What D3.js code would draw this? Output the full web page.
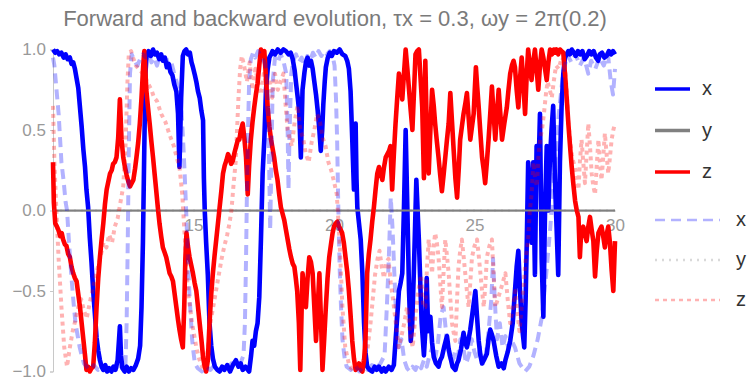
<!DOCTYPE html>
<html>
<head>
<meta charset="utf-8">
<script src="https://cdn.jsdelivr.net/npm/d3@7"></script>
<style>
  body { margin: 0; background: #fff; }
  svg { font-family: "Liberation Sans", Arial, sans-serif; }
</style>
</head>
<body>
<div id="chart"></div>
<script>
// forward evolution, [t, value]
const xFwd = [[10.0,1.0],[10.08,0.98],[10.15,0.99],[10.22,0.97],[10.3,0.98],[10.38,0.95],[10.45,0.97],[10.52,0.94],[10.6,0.95],[10.66,0.91],[10.72,0.92],[10.78,0.88],[10.84,0.82],[10.9,0.76],[10.96,0.64],[11.02,0.52],[11.08,0.38],[11.14,0.27],[11.19,0.13],[11.25,0.02],[11.31,-0.17],[11.37,-0.32],[11.43,-0.5],[11.49,-0.64],[11.55,-0.79],[11.61,-0.87],[11.67,-0.93],[11.73,-0.97],[11.79,-0.99],[11.86,-0.96],[11.93,-1.0],[12.0,-0.98],[12.08,-1.0],[12.15,-0.97],[12.22,-0.99],[12.3,-0.93],[12.35,-0.8],[12.38,-0.72],[12.42,-0.9],[12.47,-0.98],[12.55,-1.0],[12.62,-0.97],[12.7,-1.0],[12.78,-0.98],[12.86,-0.99],[12.95,-0.96],[13.03,-0.92],[13.1,-0.84],[13.15,-0.6],[13.2,-0.2],[13.25,0.4],[13.29,0.85],[13.33,0.97],[13.4,0.99],[13.48,0.96],[13.56,1.0],[13.63,0.97],[13.7,0.98],[13.78,0.94],[13.85,0.97],[13.91,0.93],[13.98,0.95],[14.05,0.89],[14.12,0.91],[14.18,0.86],[14.25,0.84],[14.32,0.78],[14.39,0.74],[14.45,0.6],[14.5,0.27],[14.56,0.7],[14.62,0.96],[14.68,0.99],[14.74,1.0],[14.8,0.97],[14.87,0.98],[14.93,0.92],[14.98,0.89],[15.05,0.84],[15.1,0.8],[15.16,0.74],[15.22,0.7],[15.28,0.62],[15.34,0.56],[15.37,0.2],[15.4,0.0],[15.45,-0.2],[15.51,-0.4],[15.57,-0.7],[15.63,-0.84],[15.69,-0.92],[15.76,-0.97],[15.85,-0.99],[15.93,-1.0],[16.02,-0.97],[16.1,-0.99],[16.2,-0.96],[16.3,-1.0],[16.4,-0.96],[16.51,-0.93],[16.6,-0.97],[16.68,-0.95],[16.75,-0.99],[16.85,-0.97],[16.98,-1.0],[17.05,-0.9],[17.1,-0.81],[17.16,-0.84],[17.22,-0.75],[17.28,-0.7],[17.34,-0.54],[17.4,-0.18],[17.46,0.23],[17.52,0.44],[17.58,0.75],[17.64,0.88],[17.7,0.95],[17.76,0.97],[17.81,0.99],[17.9,0.97],[18.0,1.0],[18.1,0.98],[18.2,1.0],[18.29,0.99],[18.38,0.97],[18.46,0.98],[18.53,0.94],[18.6,0.87],[18.65,0.79],[18.71,0.7],[18.76,0.62],[18.82,0.33],[18.88,0.75],[18.95,0.86],[19.0,0.92],[19.06,0.95],[19.12,0.9],[19.18,0.93],[19.24,0.88],[19.3,0.8],[19.36,0.72],[19.42,0.62],[19.48,0.5],[19.53,0.37],[19.58,0.5],[19.62,0.66],[19.67,0.8],[19.71,0.89],[19.78,0.95],[19.85,0.98],[19.92,0.96],[20.0,0.99],[20.1,0.98],[20.2,1.0],[20.3,0.97],[20.4,0.96],[20.47,0.93],[20.53,0.88],[20.59,0.74],[20.65,0.44],[20.71,0.13],[20.75,0.3],[20.77,0.54],[20.8,0.2],[20.83,0.02],[20.89,-0.08],[20.95,-0.18],[21.01,-0.39],[21.07,-0.7],[21.12,-0.88],[21.18,-0.97],[21.27,-0.99],[21.36,-1.0],[21.45,-0.97],[21.52,-0.99],[21.6,-0.97],[21.7,-1.0],[21.78,-0.98],[21.84,-1.0],[21.95,-0.97],[22.05,-0.99],[22.13,-0.96],[22.19,-0.81],[22.25,-0.66],[22.31,-0.5],[22.37,-0.45],[22.43,-0.39],[22.49,0.02],[22.55,0.5],[22.61,0.02],[22.67,-0.5],[22.73,-0.81],[22.78,-0.72],[22.84,-0.39],[22.93,0.19],[23.02,-0.18],[23.08,-0.5],[23.12,-0.7],[23.2,-0.9],[23.25,-0.75],[23.3,-0.42],[23.35,-0.75],[23.43,-0.66],[23.49,-0.82],[23.55,-0.91],[23.63,-0.95],[23.72,-0.97],[23.78,-0.93],[23.84,-0.91],[23.93,-0.84],[24.02,-0.78],[24.08,-0.86],[24.14,-0.91],[24.22,-0.97],[24.32,-0.99],[24.38,-0.95],[24.43,-0.93],[24.52,-0.86],[24.61,-0.76],[24.67,-0.82],[24.73,-0.85],[24.79,-0.8],[24.85,-0.74],[24.94,-0.62],[25.03,-0.5],[25.09,-0.66],[25.15,-0.81],[25.21,-0.9],[25.27,-0.95],[25.36,-0.92],[25.44,-0.89],[25.5,-0.8],[25.56,-0.74],[25.62,-0.77],[25.68,-0.81],[25.77,-0.9],[25.86,-0.97],[25.96,-0.95],[26.04,-0.98],[26.1,-0.93],[26.18,-0.88],[26.27,-0.81],[26.36,-0.7],[26.44,-0.5],[26.5,-0.35],[26.56,-0.25],[26.62,-0.5],[26.68,-0.7],[26.77,-0.85],[26.82,-0.55],[26.86,-0.2],[26.91,0.3],[26.97,0.1],[27.03,-0.2],[27.09,0.3],[27.15,-0.4],[27.21,0.4],[27.27,0.2],[27.33,0.6],[27.39,-0.3],[27.45,-0.66],[27.51,0.0],[27.57,0.4],[27.63,0.0],[27.68,0.3],[27.74,0.5],[27.8,0.65],[27.86,0.2],[27.92,-0.1],[27.98,-0.4],[28.04,0.3],[28.1,0.65],[28.16,0.85],[28.22,0.95],[28.28,0.97],[28.34,0.99],[28.4,0.97],[28.46,1.0],[28.54,0.98],[28.6,0.96],[28.68,0.99],[28.76,0.97],[28.84,0.99],[28.92,0.94],[29.0,0.96],[29.08,0.99],[29.16,0.97],[29.24,0.99],[29.32,0.95],[29.4,0.93],[29.46,0.97],[29.54,0.98],[29.62,0.95],[29.7,0.96],[29.78,0.99],[29.86,0.97],[29.93,0.99],[30.0,0.97]];

const yFwd = [[10, 0], [30, 0]];

const zFwd = [[10.0,0.3],[10.03,0.05],[10.08,-0.08],[10.14,-0.1],[10.19,-0.12],[10.26,-0.16],[10.31,-0.14],[10.36,-0.18],[10.42,-0.21],[10.48,-0.22],[10.54,-0.27],[10.6,-0.29],[10.66,-0.35],[10.72,-0.39],[10.78,-0.42],[10.84,-0.44],[10.9,-0.52],[10.96,-0.6],[11.02,-0.7],[11.08,-0.8],[11.14,-0.9],[11.19,-0.99],[11.25,-0.97],[11.31,-1.0],[11.37,-0.98],[11.43,-0.97],[11.49,-0.82],[11.55,-0.6],[11.61,-0.42],[11.67,-0.29],[11.73,-0.18],[11.79,-0.08],[11.85,0.04],[11.91,0.13],[11.97,0.18],[12.03,0.23],[12.09,0.25],[12.14,0.29],[12.2,0.3],[12.26,0.33],[12.32,0.45],[12.38,0.69],[12.44,0.44],[12.5,0.33],[12.56,0.27],[12.62,0.22],[12.68,0.18],[12.74,0.15],[12.8,0.17],[12.86,0.19],[12.92,0.26],[12.97,0.33],[13.03,0.42],[13.09,0.54],[13.15,0.7],[13.21,0.9],[13.25,0.99],[13.28,0.9],[13.32,0.75],[13.38,0.64],[13.44,0.54],[13.5,0.43],[13.56,0.33],[13.62,0.22],[13.67,0.13],[13.73,0.02],[13.79,-0.08],[13.85,-0.16],[13.91,-0.23],[13.97,-0.26],[14.03,-0.29],[14.09,-0.34],[14.15,-0.39],[14.21,-0.41],[14.27,-0.44],[14.33,-0.52],[14.39,-0.6],[14.45,-0.68],[14.5,-0.74],[14.56,-0.8],[14.62,-0.85],[14.67,-0.6],[14.71,-0.3],[14.75,-0.14],[14.8,-0.22],[14.86,-0.29],[14.92,-0.34],[14.98,-0.39],[15.04,-0.45],[15.1,-0.5],[15.16,-0.6],[15.22,-0.7],[15.28,-0.8],[15.34,-0.91],[15.4,-0.97],[15.45,-1.0],[15.51,-0.93],[15.57,-0.7],[15.63,-0.52],[15.69,-0.39],[15.75,-0.28],[15.81,-0.18],[15.87,-0.08],[15.93,0.02],[15.99,0.12],[16.05,0.23],[16.11,0.28],[16.17,0.31],[16.23,0.35],[16.28,0.33],[16.34,0.29],[16.4,0.31],[16.46,0.36],[16.52,0.4],[16.58,0.44],[16.63,0.44],[16.69,0.5],[16.75,0.54],[16.81,0.45],[16.87,0.33],[16.93,0.1],[16.98,0.28],[17.04,0.44],[17.1,0.55],[17.16,0.64],[17.22,0.72],[17.28,0.79],[17.34,0.9],[17.4,1.0],[17.46,0.98],[17.52,0.99],[17.58,0.82],[17.64,0.64],[17.7,0.52],[17.76,0.44],[17.82,0.38],[17.87,0.33],[17.93,0.25],[17.99,0.19],[18.05,0.1],[18.11,0.02],[18.17,-0.02],[18.23,-0.06],[18.29,-0.12],[18.35,-0.18],[18.41,-0.24],[18.47,-0.29],[18.53,-0.33],[18.59,-0.35],[18.64,-0.42],[18.69,-0.5],[18.75,-0.7],[18.8,-0.99],[18.85,-0.6],[18.88,-0.39],[18.94,-0.5],[19.0,-0.6],[19.06,-0.42],[19.12,-0.29],[19.18,-0.32],[19.24,-0.39],[19.3,-0.6],[19.36,-0.81],[19.42,-0.6],[19.48,-0.39],[19.54,-0.7],[19.59,-0.99],[19.65,-0.8],[19.71,-0.6],[19.77,-0.42],[19.83,-0.29],[19.9,-0.2],[19.95,-0.14],[20.0,-0.1],[20.06,-0.08],[20.12,-0.07],[20.18,-0.1],[20.24,-0.12],[20.29,-0.14],[20.35,-0.2],[20.41,-0.29],[20.47,-0.38],[20.53,-0.5],[20.59,-0.65],[20.65,-0.81],[20.71,-0.92],[20.77,-0.99],[20.83,-0.97],[20.89,-0.95],[20.95,-0.99],[21.01,-1.0],[21.07,-0.93],[21.12,-0.8],[21.15,-0.6],[21.18,-0.39],[21.24,-0.27],[21.3,-0.18],[21.36,-0.07],[21.42,0.02],[21.48,0.13],[21.54,0.23],[21.6,0.27],[21.66,0.23],[21.72,0.19],[21.78,0.27],[21.84,0.33],[21.9,0.35],[21.96,0.37],[22.01,0.4],[22.04,0.25],[22.07,0.13],[22.13,0.35],[22.19,0.54],[22.25,0.7],[22.31,0.85],[22.37,0.78],[22.43,0.69],[22.49,0.85],[22.55,1.0],[22.61,0.88],[22.67,0.75],[22.73,0.62],[22.79,0.5],[22.85,0.75],[22.9,0.97],[22.96,0.99],[23.02,1.0],[23.08,0.82],[23.14,0.64],[23.2,0.2],[23.25,0.93],[23.31,0.44],[23.37,0.23],[23.43,0.5],[23.49,0.75],[23.55,0.65],[23.6,0.54],[23.66,0.43],[23.72,0.33],[23.78,0.22],[23.84,0.12],[23.9,0.22],[23.96,0.33],[24.02,0.44],[24.08,0.54],[24.14,0.73],[24.2,0.55],[24.26,0.37],[24.32,0.2],[24.38,0.08],[24.44,0.26],[24.49,0.44],[24.55,0.52],[24.61,0.6],[24.67,0.66],[24.73,0.73],[24.79,0.58],[24.85,0.44],[24.91,0.52],[24.97,0.6],[25.01,0.75],[25.05,0.89],[25.1,0.76],[25.15,0.64],[25.21,0.48],[25.27,0.33],[25.33,0.25],[25.38,0.17],[25.44,0.3],[25.5,0.44],[25.56,0.6],[25.62,0.77],[25.68,0.6],[25.74,0.44],[25.8,0.6],[25.86,0.75],[25.92,0.6],[25.98,0.44],[26.06,0.54],[26.15,0.64],[26.21,0.75],[26.27,0.85],[26.33,0.9],[26.39,0.93],[26.44,0.89],[26.5,0.75],[26.56,0.64],[26.62,0.82],[26.68,0.95],[26.74,0.78],[26.8,0.6],[26.86,0.85],[26.91,1.0],[26.97,0.9],[27.03,0.81],[27.09,0.92],[27.15,1.0],[27.21,0.88],[27.27,0.75],[27.33,0.9],[27.39,1.0],[27.45,0.95],[27.51,0.88],[27.57,0.81],[27.63,0.92],[27.69,1.0],[27.76,0.97],[27.82,1.0],[27.86,0.98],[27.92,1.0],[27.98,0.97],[28.04,1.0],[28.1,0.99],[28.16,0.98],[28.22,0.85],[28.28,0.7],[28.34,0.54],[28.4,0.4],[28.46,0.27],[28.52,0.16],[28.58,0.06],[28.64,0.0],[28.7,-0.04],[28.75,-0.29],[28.8,-0.12],[28.87,-0.1],[28.93,-0.15],[28.99,-0.19],[29.05,-0.1],[29.11,-0.04],[29.17,-0.12],[29.23,-0.19],[29.29,-0.41],[29.35,-0.25],[29.41,-0.14],[29.46,-0.12],[29.52,-0.1],[29.58,-0.16],[29.64,-0.23],[29.7,-0.15],[29.76,-0.1],[29.82,-0.2],[29.88,-0.37],[29.94,-0.5],[30.0,-0.19]];

// backward evolution, [t, value]
const xBwd = [[10.0,0.95],[10.05,0.9],[10.1,0.8],[10.15,0.7],[10.2,0.6],[10.25,0.45],[10.3,0.3],[10.38,0.18],[10.45,0.05],[10.5,0.0],[10.57,-0.2],[10.65,-0.4],[10.72,-0.55],[10.8,-0.7],[10.88,-0.78],[10.95,-0.85],[11.02,-0.9],[11.1,-0.95],[11.2,-0.97],[11.3,-0.99],[11.45,-0.96],[11.6,-0.99],[11.75,-0.97],[11.9,-1.0],[12.05,-0.97],[12.2,-0.99],[12.35,-0.96],[12.5,-0.98],[12.58,-0.95],[12.62,-0.7],[12.66,-0.2],[12.7,0.4],[12.74,0.85],[12.8,0.97],[12.9,0.93],[13.0,0.9],[13.1,0.94],[13.2,0.97],[13.3,0.95],[13.4,0.99],[13.5,0.92],[13.6,0.95],[13.7,0.9],[13.8,0.96],[13.9,0.93],[14.0,0.97],[14.1,0.9],[14.2,0.93],[14.3,0.86],[14.4,0.8],[14.5,0.72],[14.58,0.6],[14.64,0.4],[14.68,0.25],[14.75,-0.05],[14.8,-0.3],[14.85,-0.5],[14.9,-0.65],[14.95,-0.8],[15.0,-0.88],[15.05,-0.95],[15.15,-0.98],[15.3,-1.0],[15.45,-0.97],[15.6,-0.99],[15.75,-0.96],[15.9,-1.0],[16.05,-0.97],[16.2,-0.99],[16.35,-0.95],[16.5,-0.98],[16.65,-0.96],[16.78,-0.9],[16.83,-0.7],[16.87,-0.3],[16.9,0.1],[16.94,0.5],[16.98,0.8],[17.04,0.94],[17.12,0.98],[17.2,0.95],[17.3,0.99],[17.4,0.96],[17.5,0.93],[17.6,0.88],[17.66,0.6],[17.7,0.2],[17.73,-0.12],[17.77,0.3],[17.82,0.8],[17.9,0.95],[18.0,0.92],[18.1,0.97],[18.2,0.93],[18.3,0.85],[18.35,0.5],[18.38,0.13],[18.42,0.5],[18.48,0.85],[18.55,0.93],[18.65,0.97],[18.75,0.92],[18.85,0.95],[18.95,0.9],[19.05,0.96],[19.15,0.93],[19.25,0.98],[19.35,0.95],[19.45,0.99],[19.55,0.96],[19.65,0.99],[19.75,0.97],[19.85,0.99],[19.95,0.96],[20.02,0.9],[20.07,0.7],[20.11,0.45],[20.15,0.05],[20.2,-0.35],[20.25,-0.6],[20.3,-0.8],[20.38,-0.92],[20.45,-0.97],[20.6,-0.99],[20.75,-0.96],[20.9,-1.0],[21.05,-0.97],[21.2,-0.99],[21.35,-0.96],[21.5,-0.98],[21.65,-0.95],[21.8,-0.9],[21.88,-0.6],[21.95,-0.3],[22.02,0.08],[22.08,-0.1],[22.15,-0.4],[22.22,-0.7],[22.3,-0.85],[22.4,-0.8],[22.5,-0.93],[22.6,-0.98],[22.7,-1.0],[22.8,-0.97],[22.9,-0.99],[23.0,-0.95],[23.1,-0.98],[23.2,-0.93],[23.3,-0.97],[23.4,-0.9],[23.5,-0.85],[23.6,-0.92],[23.7,-0.82],[23.8,-0.65],[23.9,-0.6],[24.0,-0.78],[24.1,-0.9],[24.2,-0.95],[24.3,-0.88],[24.4,-0.92],[24.5,-0.8],[24.6,-0.85],[24.7,-0.95],[24.8,-0.9],[24.9,-0.8],[25.0,-0.88],[25.1,-0.93],[25.2,-0.85],[25.3,-0.95],[25.4,-0.9],[25.5,-0.75],[25.6,-0.55],[25.66,-0.3],[25.72,-0.55],[25.8,-0.8],[25.9,-0.7],[26.0,-0.85],[26.1,-0.78],[26.2,-0.85],[26.3,-0.8],[26.44,-0.85],[26.6,-0.95],[26.8,-1.0],[26.95,-0.97],[27.1,-0.9],[27.25,-0.8],[27.4,-0.66],[27.55,-0.4],[27.7,-0.1],[27.85,0.25],[28.0,0.6],[28.15,0.85],[28.3,0.97],[28.45,0.92],[28.6,0.97],[28.75,0.9],[28.9,0.95],[29.05,0.85],[29.15,0.93],[29.3,0.88],[29.45,0.95],[29.6,0.9],[29.75,0.97],[29.85,0.8],[29.93,0.72],[30.0,0.88]];

const yBwd = [[10, 0], [30, 0]];

const zBwd = [[10.0,0.65],[10.05,0.3],[10.12,0.0],[10.2,-0.3],[10.3,-0.6],[10.4,-0.85],[10.5,-0.97],[10.6,-0.85],[10.7,-0.75],[10.8,-0.68],[10.9,-0.6],[11.0,-0.55],[11.1,-0.62],[11.2,-0.67],[11.3,-0.58],[11.4,-0.5],[11.5,-0.42],[11.6,-0.35],[11.7,-0.28],[11.8,-0.2],[11.9,-0.23],[12.0,-0.15],[12.1,-0.2],[12.2,-0.1],[12.3,-0.05],[12.4,0.05],[12.5,0.15],[12.58,0.4],[12.65,0.8],[12.7,0.98],[12.78,0.99],[12.85,0.95],[12.95,0.9],[13.05,0.88],[13.2,0.85],[13.35,0.8],[13.5,0.75],[13.6,0.7],[13.7,0.68],[13.85,0.6],[14.0,0.55],[14.15,0.47],[14.3,0.4],[14.4,0.33],[14.5,0.27],[14.6,0.1],[14.7,-0.2],[14.8,-0.5],[14.95,-0.7],[15.1,-0.85],[15.2,-0.92],[15.3,-0.97],[15.45,-0.95],[15.52,-0.85],[15.6,-0.7],[15.7,-0.6],[15.8,-0.5],[15.9,-0.4],[16.0,-0.3],[16.1,-0.22],[16.2,-0.15],[16.28,-0.08],[16.35,0.0],[16.42,0.15],[16.5,0.3],[16.55,0.5],[16.6,0.7],[16.66,0.88],[16.72,0.96],[16.8,0.9],[16.9,0.8],[17.0,0.92],[17.1,0.75],[17.2,0.88],[17.3,0.8],[17.4,0.72],[17.5,0.85],[17.6,0.78],[17.7,0.82],[17.8,0.7],[17.9,0.85],[18.0,0.75],[18.1,0.8],[18.2,0.85],[18.28,0.65],[18.35,0.5],[18.42,0.45],[18.5,0.4],[18.6,0.55],[18.7,0.65],[18.8,0.5],[18.9,0.45],[19.0,0.35],[19.1,0.3],[19.2,0.42],[19.3,0.5],[19.4,0.6],[19.5,0.55],[19.6,0.45],[19.7,0.4],[19.8,0.3],[19.9,0.25],[20.0,0.18],[20.1,0.1],[20.2,-0.2],[20.3,-0.6],[20.4,-0.85],[20.55,-0.97],[20.7,-0.99],[20.85,-0.96],[21.0,-0.95],[21.1,-0.9],[21.2,-0.85],[21.3,-0.7],[21.38,-0.55],[21.46,-0.4],[21.55,-0.3],[21.62,-0.25],[21.7,-0.35],[21.78,-0.42],[21.86,-0.32],[21.94,-0.3],[22.02,-0.45],[22.1,-0.55],[22.2,-0.7],[22.3,-0.85],[22.4,-0.78],[22.5,-0.7],[22.6,-0.6],[22.7,-0.75],[22.8,-0.85],[22.9,-0.65],[23.0,-0.5],[23.1,-0.4],[23.18,-0.6],[23.25,-0.6],[23.31,-0.35],[23.37,-0.18],[23.43,-0.28],[23.49,-0.39],[23.55,-0.22],[23.6,-0.14],[23.66,-0.2],[23.72,-0.29],[23.78,-0.45],[23.84,-0.6],[23.9,-0.38],[23.96,-0.18],[24.02,-0.28],[24.08,-0.39],[24.14,-0.55],[24.2,-0.7],[24.26,-0.76],[24.32,-0.81],[24.38,-0.55],[24.43,-0.35],[24.49,-0.25],[24.55,-0.18],[24.61,-0.28],[24.67,-0.39],[24.73,-0.5],[24.79,-0.6],[24.85,-0.45],[24.91,-0.29],[25.0,-0.22],[25.09,-0.18],[25.15,-0.28],[25.21,-0.39],[25.27,-0.5],[25.33,-0.6],[25.39,-0.45],[25.44,-0.29],[25.53,-0.22],[25.62,-0.18],[25.68,-0.4],[25.74,-0.6],[25.83,-0.55],[25.92,-0.5],[26.0,-0.45],[26.1,-0.39],[26.18,-0.55],[26.27,-0.7],[26.36,-0.6],[26.45,-0.5],[26.52,-0.62],[26.6,-0.75],[26.68,-0.6],[26.75,-0.45],[26.82,-0.3],[26.9,-0.2],[26.97,0.0],[27.03,0.1],[27.1,0.3],[27.16,0.2],[27.22,0.15],[27.28,0.35],[27.34,0.45],[27.4,0.5],[27.47,0.6],[27.54,0.72],[27.6,0.8],[27.68,0.75],[27.75,0.7],[27.82,0.8],[27.9,0.9],[28.0,0.88],[28.1,0.95],[28.2,0.93],[28.28,0.75],[28.34,0.54],[28.4,0.45],[28.46,0.35],[28.52,0.3],[28.58,0.27],[28.64,0.2],[28.7,0.13],[28.75,0.3],[28.81,0.44],[28.87,0.3],[28.93,0.17],[28.99,0.35],[29.05,0.54],[29.11,0.4],[29.17,0.23],[29.23,0.15],[29.29,0.1],[29.35,0.28],[29.41,0.44],[29.46,0.3],[29.52,0.19],[29.58,0.33],[29.64,0.48],[29.7,0.35],[29.76,0.23],[29.82,0.33],[29.88,0.44],[29.94,0.5],[30.0,0.54]];

const xTicks = [15, 20, 25, 30];
const yTicks = [-1, -0.5, 0, 0.5, 1];
const seriesNames = ["x", "y", "z"];
const titleText = "Forward and backward evolution, \u03c4x = 0.3, \u03c9y = 2\u03c0(0.2)";

const W = 748, H = 381;
const colors = {x: "#0000ff", y: "#808080", z: "#ff0000"};

const svg = d3.select("#chart").append("svg")
  .attr("width", W)
  .attr("height", H);

// scales
const xScale = d3.scaleLinear().domain([10, 30]).range([53, 615]);
const yScale = d3.scaleLinear().domain([-1, 1]).range([371.5, 49.5]);

svg.append("defs").append("clipPath").attr("id", "plotclip")
  .append("rect")
  .attr("x", 50).attr("y", yScale(1) - 3)
  .attr("width", 570).attr("height", yScale(-1) - yScale(1) + 6);

// title
svg.append("text")
  .attr("x", 335).attr("y", 26)
  .attr("text-anchor", "middle")
  .style("font-size", "22px")
  .style("fill", "#7a7a7a")
  .text(titleText);

// y axis: thin line + labels
const yAxis = d3.axisLeft(yScale)
  .tickValues(yTicks)
  .tickFormat(d => d3.format(".1f")(d).replace("-", "\u2212"))
  .tickSize(3)
  .tickPadding(4);
const gy = svg.append("g")
  .attr("transform", "translate(" + xScale(10) + ",0)")
  .call(yAxis);
gy.select(".domain").attr("stroke", "#c8c8c8");
gy.selectAll(".tick line").attr("stroke", "#c8c8c8");
gy.selectAll(".tick text")
  .style("font-size", "17px")
  .style("font-family", "Liberation Sans, Arial, sans-serif")
  .attr("fill", "#999");

// x axis labels (sit beneath the data)
const xAxis = d3.axisBottom(xScale)
  .tickValues(xTicks)
  .tickFormat(d3.format("d"))
  .tickSize(0)
  .tickPadding(8);
const gx = svg.append("g")
  .attr("transform", "translate(0," + yScale(0) + ")")
  .call(xAxis);
gx.select(".domain").attr("stroke", "#999");
gx.selectAll(".tick text")
  .style("font-size", "17px")
  .style("font-family", "Liberation Sans, Arial, sans-serif")
  .attr("fill", "#999");

const line = d3.line()
  .x(d => xScale(d[0]))
  .y(d => yScale(d[1]));

const plot = svg.append("g").attr("clip-path", "url(#plotclip)");

const fwd = [xFwd, yFwd, zFwd];
const bwd = [xBwd, yBwd, zBwd];
const dashes = {x: "10,6", y: "2,5", z: "4,4"};

fwd.forEach(function(s, i) {
  plot.append("path")
    .datum(s)
    .attr("d", line)
    .attr("fill", "none")
    .attr("stroke", colors[seriesNames[i]])
    .attr("stroke-width", seriesNames[i] == "y" ? 2.2 : 4.6)
    .attr("stroke-linejoin", "round");
});

bwd.forEach(function(s, i) {
  plot.append("path")
    .datum(s)
    .attr("d", line)
    .attr("fill", "none")
    .attr("stroke", colors[seriesNames[i]])
    .attr("stroke-opacity", 0.3)
    .attr("stroke-width", seriesNames[i] == "y" ? 2 : 4)
    .attr("stroke-dasharray", dashes[seriesNames[i]])
    .attr("stroke-linejoin", "round");
});

// legend
const legSolid = svg.append("g");
seriesNames.forEach(function(n, i) {
  const yy = 89 + i * 41.5;
  legSolid.append("line")
    .attr("x1", 655).attr("x2", 690)
    .attr("y1", yy).attr("y2", yy)
    .attr("stroke", colors[n])
    .attr("stroke-width", 3.5);
  legSolid.append("text")
    .attr("x", 702).attr("y", yy + 6)
    .style("font-size", "20px")
    .style("fill", "#333")
    .text(n);
});

const legDash = svg.append("g");
seriesNames.forEach(function(n, i) {
  const yy = 220 + i * 40;
  legDash.append("line")
    .attr("x1", 655).attr("x2", 720)
    .attr("y1", yy).attr("y2", yy)
    .attr("stroke", colors[n])
    .attr("stroke-opacity", 0.3)
    .attr("stroke-width", 2.5)
    .attr("stroke-dasharray", dashes[n]);
  legDash.append("text")
    .attr("x", 736).attr("y", yy + 6)
    .style("font-size", "20px")
    .style("fill", "#333")
    .text(n);
});
</script>
</body>
</html>
